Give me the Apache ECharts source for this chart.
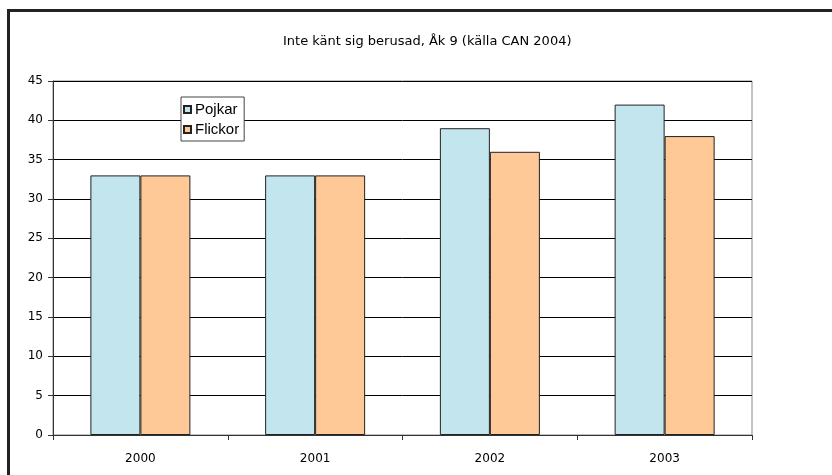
<!DOCTYPE html>
<html><head><meta charset="utf-8">
<script src="https://cdn.jsdelivr.net/npm/echarts@6/dist/echarts.min.js"></script>
<style>
html,body{margin:0;padding:0;background:#fff;}
#c{width:832px;height:475px;position:relative;}
#frame{position:absolute;left:7px;top:9px;width:840px;height:480px;border-left:3px solid #222;border-top:3px solid #222;box-sizing:border-box;pointer-events:none;}
</style></head>
<body>
<div id="c"></div>
<div id="frame"></div>
<script>
const titleText = 'Inte känt sig berusad, Åk 9 (källa CAN 2004)';
const categories = ['2000', '2001', '2002', '2003'];
const pojkar = [33, 33, 39, 42];
const flickor = [33, 33, 36, 38];
const seriesNames = ['Pojkar', 'Flickor'];

const font = 'DejaVu Sans, Liberation Sans, Arial, sans-serif';
const legendFont = 'Liberation Sans, Arial, sans-serif';
const chart = echarts.init(document.getElementById('c'), null, {renderer: 'canvas'});
chart.setOption({
  animation: false,
  backgroundColor: '#fff',
  title: {
    text: titleText, left: 283, top: 35, padding: 0,
    textStyle: {fontSize: 13, fontWeight: 'normal', color: '#000', fontFamily: font}
  },
  legend: {
    orient: 'vertical', left: 181, top: 97,
    data: seriesNames,
    backgroundColor: '#fff', borderColor: '#444', borderWidth: 1,
    padding: [5, 5, 4, 2], itemGap: 5, itemWidth: 7, itemHeight: 7,
    icon: 'rect',
    textStyle: {fontSize: 15, color: '#000', fontFamily: legendFont, padding: [0, 0, 0, -1]}
  },
  grid: {left: 53, right: 80, top: 81, bottom: 40, show: true, borderColor: '#888', borderWidth: 1},
  xAxis: {
    type: 'category', data: categories,
    axisLine: {lineStyle: {color: '#333'}},
    axisTick: {show: true, length: 5, inside: false, lineStyle: {color: '#333'}},
    axisLabel: {fontSize: 12, color: '#000', fontFamily: font, margin: 18},
    splitLine: {show: false}
  },
  yAxis: {
    type: 'value', min: 0, max: 45, interval: 5,
    axisLine: {show: true, lineStyle: {color: '#333'}},
    axisTick: {show: true, length: 5, lineStyle: {color: '#333'}},
    axisLabel: {fontSize: 12, color: '#000', fontFamily: font, margin: 10},
    splitLine: {show: true, lineStyle: {color: '#000', width: 1}}
  },
  series: [
    {name: seriesNames[0], type: 'bar', data: pojkar, barWidth: 50, barGap: '0%',
     itemStyle: {color: '#C2E5EE', borderColor: '#222', borderWidth: 1}},
    {name: seriesNames[1], type: 'bar', data: flickor, barWidth: 50, barGap: '0%',
     itemStyle: {color: '#FFC897', borderColor: '#222', borderWidth: 1}}
  ]
});
</script>
</body></html>
